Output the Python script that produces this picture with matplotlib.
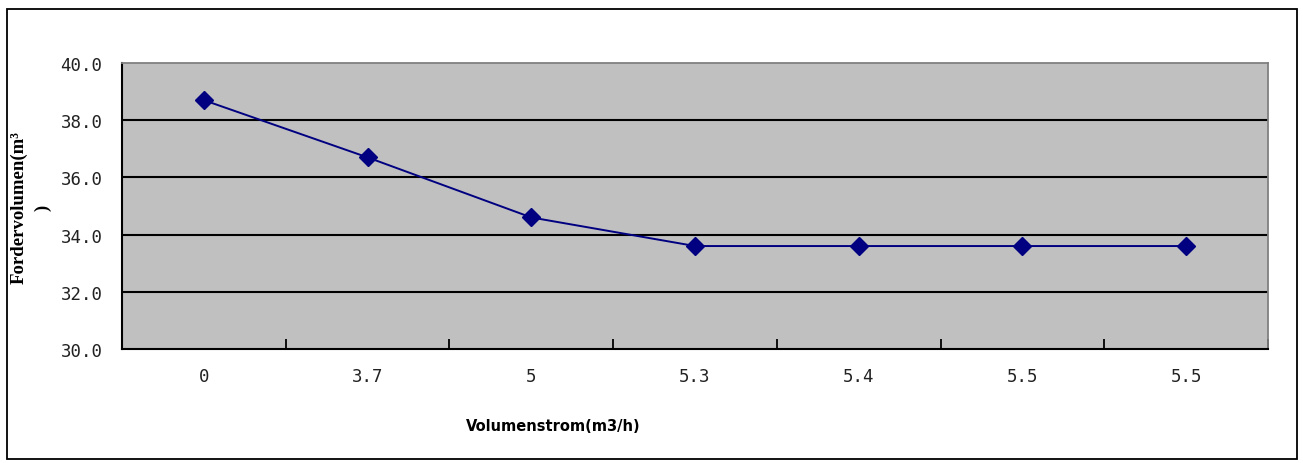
import matplotlib.pyplot as plt
import numpy as np
from matplotlib.patches import Rectangle

# Volumenstrom (Kategorien) und Fordervolumen
kategorien = ["0", "3.7", "5", "5.3", "5.4", "5.5", "5.5"]
fordervolumen = [38.7, 36.7, 34.6, 33.6, 33.6, 33.6, 33.6]
y_ticks = [30.0, 32.0, 34.0, 36.0, 38.0, 40.0]

W, H = 1303, 464
fig = plt.figure(figsize=(W / 100, H / 100), dpi=100)

# Zeichenfläche in Pixelkoordinaten
ax = fig.add_axes([122 / W, (H - 350) / H, 1146 / W, 286 / H])
ax.set_facecolor("#c0c0c0")

x = np.arange(len(kategorien))
ax.plot(x, fordervolumen, color="#000080", lw=1.4, marker="D", ms=9,
        mfc="#000080", mec="#000080", zorder=3)

ax.set_xlim(-0.5, len(kategorien) - 0.5)
ax.set_ylim(30, 40)

# Gitterlinien
for v in y_ticks[1:-1]:
    ax.axhline(v, color="black", lw=1.5, zorder=1)

ax.set_yticks(y_ticks)
ax.set_yticklabels([f"{v:.1f}" for v in y_ticks],
                   fontfamily="DejaVu Sans Mono", fontsize=12.5, color="#222222")
ax.tick_params(axis="y", length=0, pad=14)

ax.set_xticks(x)
ax.set_xticklabels(kategorien, fontfamily="DejaVu Sans Mono", fontsize=12.5,
                   color="#222222")
ax.tick_params(axis="x", which="major", length=0, pad=13)
ax.set_xticks(np.arange(-0.5, len(kategorien)), minor=True)
ax.tick_params(axis="x", which="minor", direction="in", length=7,
               width=1.3, color="black")

for s in ["top", "right"]:
    ax.spines[s].set_color("#808080")
    ax.spines[s].set_linewidth(1.3)
for s in ["left", "bottom"]:
    ax.spines[s].set_color("black")
    ax.spines[s].set_linewidth(1.5)

fig.text(553 / W, (H - 427) / H, "Volumenstrom(m3/h)", ha="center", va="center",
         fontsize=10.5, fontweight="bold",
         family=["Liberation Sans Narrow", "DejaVu Sans"])
fig.text(31 / W, (H - 208) / H, "Fordervolumen(m³\n)", rotation=90,
         ha="center", va="center", multialignment="center", linespacing=1.5,
         fontsize=13.5, fontweight="bold",
         family=["Liberation Serif", "DejaVu Serif"])

# Rahmen um das ganze Diagramm
fig.patches.append(Rectangle((7 / W, (H - 460) / H), 1290 / W, 450 / H,
                             transform=fig.transFigure, fill=False,
                             edgecolor="black", lw=1.3))

fig.savefig("out.png", dpi=100)
